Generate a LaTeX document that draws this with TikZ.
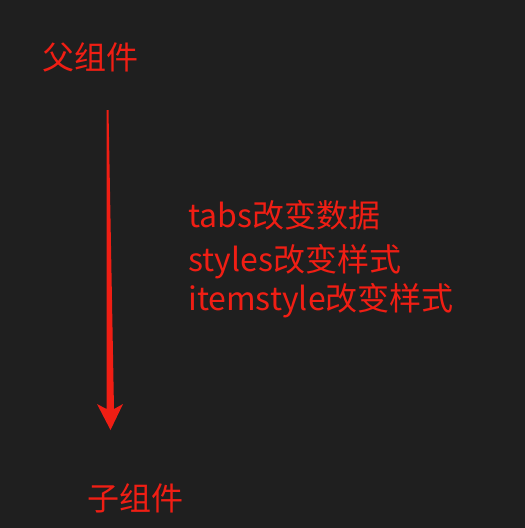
\documentclass[tikz,border=0pt]{standalone}
\usepackage{fontspec}
\setmainfont{Noto Sans CJK SC}
\definecolor{bg}{RGB}{31,31,31}
\definecolor{rd}{RGB}{240,30,20}
\begin{document}
\begin{tikzpicture}[x=1pt,y=-1pt,
  lbl/.style={text=rd,font=\fontsize{32}{38}\selectfont,inner sep=0pt},
  arr/.style={fill=rd,draw=none}]
\fill[bg] (0,0) rectangle (525,528);
\useasboundingbox (0,0) rectangle (525,528);
\node[lbl,anchor=center] (parent) at (90,57) {父组件};
\node[lbl,anchor=center] (child) at (135,498) {子组件};
\node[lbl,anchor=base west] (t1) at (188,227) {tabs改变数据};
\node[lbl,anchor=base west] (t2) at (188,271) {styles改变样式};
\node[lbl,anchor=base west] (t3) at (188,310) {itemstyle改变样式};
\coordinate (a0) at (107.5,110);
\fill[arr] (106.5,110) -- (108.5,110) -- (114,409) -- (123,404) -- (110.5,430) -- (97,404) -- (106.5,409) -- cycle;
\end{tikzpicture}
\end{document}
